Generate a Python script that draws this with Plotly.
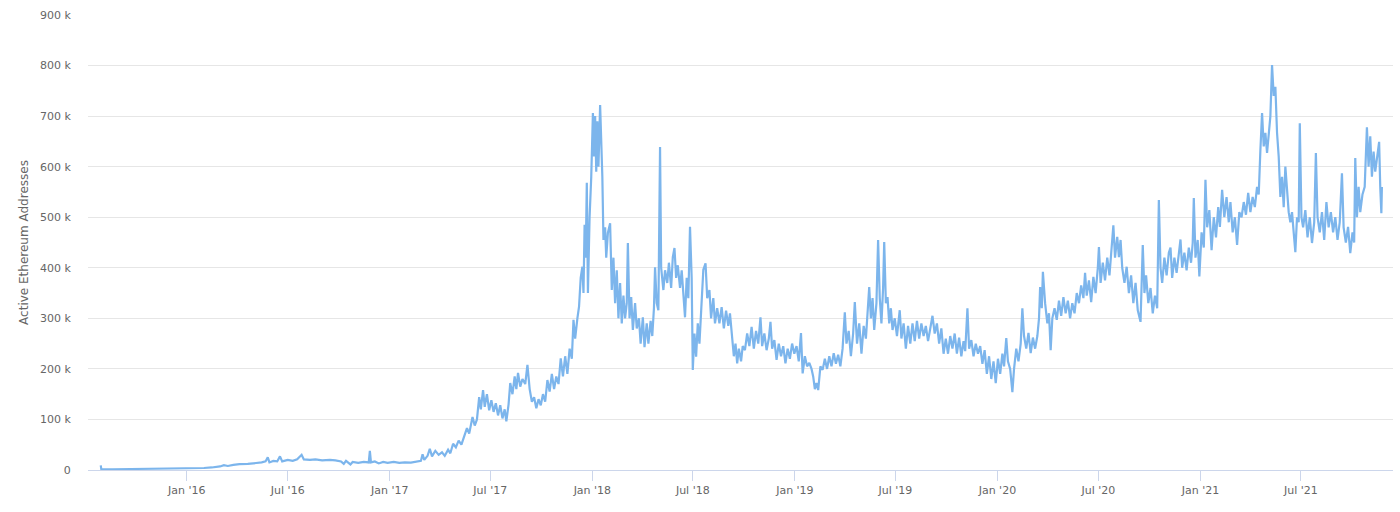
import plotly.graph_objects as go

# (date, active addresses), grouped by year
Y2015 = [("2015-07-30", 9000), ("2015-07-31", 1200), ("2015-08-20", 1500), ("2015-09-20", 1800),
         ("2015-10-20", 2000), ("2015-11-20", 2300), ("2015-12-20", 2600)]

Y2016 = [("2016-01-15", 3200), ("2016-02-01", 4000), ("2016-02-15", 5000), ("2016-03-01", 7000),
         ("2016-03-08", 9500), ("2016-03-15", 8000), ("2016-03-25", 10000), ("2016-04-05", 11500),
         ("2016-04-20", 12000), ("2016-05-05", 13500), ("2016-05-15", 15000), ("2016-05-22", 17000),
         ("2016-05-26", 25000), ("2016-05-29", 15000), ("2016-06-05", 18000), ("2016-06-12", 17000),
         ("2016-06-17", 27000), ("2016-06-21", 17000), ("2016-07-01", 20000), ("2016-07-10", 18000),
         ("2016-07-18", 21000), ("2016-07-26", 30000), ("2016-07-30", 21000), ("2016-08-10", 20000),
         ("2016-08-20", 21000), ("2016-09-01", 19000), ("2016-09-15", 20000), ("2016-09-25", 19000),
         ("2016-10-05", 17000), ("2016-10-10", 12000), ("2016-10-14", 18000), ("2016-10-22", 11000),
         ("2016-10-26", 16000), ("2016-11-05", 14000), ("2016-11-15", 16000), ("2016-11-24", 15000),
         ("2016-11-26", 38000), ("2016-11-28", 15000), ("2016-12-05", 17000), ("2016-12-12", 13000),
         ("2016-12-20", 16000), ("2016-12-28", 14000)]

Y2017 = [("2017-01-08", 16000), ("2017-01-18", 14000), ("2017-01-28", 15000), ("2017-02-08", 14500),
         ("2017-02-18", 16000), ("2017-02-26", 18000), ("2017-03-01", 31000), ("2017-03-04", 20000),
         ("2017-03-10", 28000), ("2017-03-14", 42000), ("2017-03-18", 27000), ("2017-03-24", 38000),
         ("2017-03-30", 30000), ("2017-04-05", 35000), ("2017-04-10", 28000), ("2017-04-16", 40000),
         ("2017-04-20", 33000), ("2017-04-25", 52000), ("2017-04-30", 45000), ("2017-05-05", 58000),
         ("2017-05-10", 50000), ("2017-05-16", 70000), ("2017-05-20", 83000), ("2017-05-24", 72000),
         ("2017-05-30", 105000), ("2017-06-03", 88000), ("2017-06-07", 100000), ("2017-06-11", 144000),
         ("2017-06-14", 120000), ("2017-06-18", 158000), ("2017-06-21", 125000), ("2017-06-25", 150000),
         ("2017-06-29", 118000), ("2017-07-03", 138000), ("2017-07-07", 115000), ("2017-07-11", 132000),
         ("2017-07-15", 108000), ("2017-07-19", 128000), ("2017-07-23", 102000), ("2017-07-27", 120000),
         ("2017-07-30", 96000), ("2017-08-03", 130000), ("2017-08-06", 172000), ("2017-08-10", 150000),
         ("2017-08-14", 185000), ("2017-08-17", 160000), ("2017-08-20", 192000), ("2017-08-24", 165000),
         ("2017-08-28", 180000), ("2017-09-02", 170000), ("2017-09-06", 208000), ("2017-09-10", 160000),
         ("2017-09-14", 135000), ("2017-09-18", 144000), ("2017-09-22", 122000), ("2017-09-26", 140000),
         ("2017-09-30", 128000), ("2017-10-04", 150000), ("2017-10-08", 135000), ("2017-10-12", 178000),
         ("2017-10-16", 155000), ("2017-10-20", 190000), ("2017-10-24", 160000), ("2017-10-28", 185000),
         ("2017-11-01", 170000), ("2017-11-05", 221000), ("2017-11-09", 185000), ("2017-11-13", 225000),
         ("2017-11-17", 190000), ("2017-11-21", 240000), ("2017-11-25", 220000), ("2017-11-28", 297000),
         ("2017-12-01", 260000), ("2017-12-05", 300000), ("2017-12-08", 323000), ("2017-12-11", 380000),
         ("2017-12-14", 402000), ("2017-12-16", 350000), ("2017-12-18", 485000), ("2017-12-20", 420000),
         ("2017-12-22", 568000), ("2017-12-24", 350000), ("2017-12-27", 500000), ("2017-12-30", 580000)]

Y2018 = [("2018-01-02", 706000), ("2018-01-04", 620000), ("2018-01-06", 700000), ("2018-01-08", 590000),
         ("2018-01-10", 690000), ("2018-01-12", 600000), ("2018-01-15", 722000), ("2018-01-19", 580000),
         ("2018-01-21", 455000), ("2018-01-24", 480000), ("2018-01-26", 420000), ("2018-01-29", 469000),
         ("2018-02-02", 488000), ("2018-02-05", 356000), ("2018-02-08", 420000), ("2018-02-11", 330000),
         ("2018-02-14", 395000), ("2018-02-17", 300000), ("2018-02-20", 370000), ("2018-02-23", 290000),
         ("2018-02-26", 345000), ("2018-03-01", 300000), ("2018-03-04", 330000), ("2018-03-06", 449000),
         ("2018-03-09", 300000), ("2018-03-12", 342000), ("2018-03-15", 277000), ("2018-03-19", 330000),
         ("2018-03-22", 280000), ("2018-03-26", 300000), ("2018-03-29", 250000), ("2018-04-02", 302000),
         ("2018-04-05", 243000), ("2018-04-09", 290000), ("2018-04-12", 250000), ("2018-04-16", 295000),
         ("2018-04-19", 265000), ("2018-04-22", 320000), ("2018-04-24", 401000), ("2018-04-27", 330000),
         ("2018-04-30", 316000), ("2018-05-03", 639000), ("2018-05-05", 400000), ("2018-05-09", 356000),
         ("2018-05-12", 395000), ("2018-05-16", 370000), ("2018-05-19", 410000), ("2018-05-23", 360000),
         ("2018-05-26", 421000), ("2018-05-29", 439000), ("2018-06-01", 380000), ("2018-06-04", 405000),
         ("2018-06-08", 360000), ("2018-06-11", 395000), ("2018-06-14", 350000), ("2018-06-17", 302000),
         ("2018-06-20", 380000), ("2018-06-23", 340000), ("2018-06-26", 481000), ("2018-06-29", 380000),
         ("2018-07-01", 198000), ("2018-07-04", 270000), ("2018-07-07", 224000), ("2018-07-10", 290000),
         ("2018-07-13", 250000), ("2018-07-17", 330000), ("2018-07-20", 396000), ("2018-07-24", 409000),
         ("2018-07-27", 340000), ("2018-07-31", 356000), ("2018-08-03", 300000), ("2018-08-07", 340000),
         ("2018-08-10", 290000), ("2018-08-14", 320000), ("2018-08-18", 290000), ("2018-08-22", 322000),
         ("2018-08-26", 280000), ("2018-08-30", 315000), ("2018-09-03", 285000), ("2018-09-06", 310000),
         ("2018-09-10", 257000), ("2018-09-13", 225000), ("2018-09-16", 250000), ("2018-09-19", 211000),
         ("2018-09-22", 240000), ("2018-09-26", 215000), ("2018-09-29", 245000), ("2018-10-03", 237000),
         ("2018-10-07", 270000), ("2018-10-11", 245000), ("2018-10-15", 283000), ("2018-10-19", 240000),
         ("2018-10-23", 275000), ("2018-10-27", 250000), ("2018-10-31", 302000), ("2018-11-03", 245000),
         ("2018-11-07", 270000), ("2018-11-11", 237000), ("2018-11-15", 260000), ("2018-11-18", 293000),
         ("2018-11-21", 240000), ("2018-11-25", 257000), ("2018-11-29", 218000), ("2018-12-03", 250000),
         ("2018-12-07", 225000), ("2018-12-11", 245000), ("2018-12-15", 211000), ("2018-12-19", 240000),
         ("2018-12-23", 220000), ("2018-12-27", 250000), ("2018-12-31", 230000)]

Y2019 = [("2019-01-04", 245000), ("2019-01-08", 215000), ("2019-01-12", 271000), ("2019-01-15", 191000),
         ("2019-01-19", 225000), ("2019-01-23", 205000), ("2019-01-27", 212000), ("2019-01-31", 200000),
         ("2019-02-03", 185000), ("2019-02-06", 160000), ("2019-02-09", 172000), ("2019-02-12", 158000),
         ("2019-02-16", 205000), ("2019-02-20", 198000), ("2019-02-24", 220000), ("2019-02-28", 200000),
         ("2019-03-04", 225000), ("2019-03-08", 205000), ("2019-03-12", 231000), ("2019-03-16", 210000),
         ("2019-03-20", 228000), ("2019-03-24", 205000), ("2019-03-28", 240000), ("2019-04-01", 312000),
         ("2019-04-04", 250000), ("2019-04-08", 275000), ("2019-04-12", 225000), ("2019-04-16", 270000),
         ("2019-04-19", 332000), ("2019-04-23", 250000), ("2019-04-27", 290000), ("2019-05-01", 230000),
         ("2019-05-05", 285000), ("2019-05-09", 260000), ("2019-05-12", 320000), ("2019-05-15", 362000),
         ("2019-05-18", 300000), ("2019-05-21", 340000), ("2019-05-24", 277000), ("2019-05-28", 330000),
         ("2019-05-31", 455000), ("2019-06-03", 340000), ("2019-06-06", 290000), ("2019-06-09", 360000),
         ("2019-06-11", 451000), ("2019-06-14", 330000), ("2019-06-17", 342000), ("2019-06-20", 290000),
         ("2019-06-23", 320000), ("2019-06-26", 277000), ("2019-06-30", 300000), ("2019-07-04", 265000),
         ("2019-07-09", 316000), ("2019-07-12", 260000), ("2019-07-16", 290000), ("2019-07-20", 240000),
         ("2019-07-24", 285000), ("2019-07-28", 250000), ("2019-08-01", 290000), ("2019-08-05", 255000),
         ("2019-08-09", 295000), ("2019-08-13", 260000), ("2019-08-17", 290000), ("2019-08-21", 265000),
         ("2019-08-25", 285000), ("2019-08-29", 255000), ("2019-09-02", 280000), ("2019-09-06", 305000),
         ("2019-09-10", 270000), ("2019-09-14", 290000), ("2019-09-18", 250000), ("2019-09-22", 280000),
         ("2019-09-26", 230000), ("2019-09-30", 260000), ("2019-10-04", 230000), ("2019-10-08", 265000),
         ("2019-10-12", 240000), ("2019-10-16", 270000), ("2019-10-20", 230000), ("2019-10-24", 262000),
         ("2019-10-28", 225000), ("2019-11-01", 255000), ("2019-11-04", 235000), ("2019-11-08", 320000),
         ("2019-11-11", 240000), ("2019-11-15", 257000), ("2019-11-19", 225000), ("2019-11-23", 250000),
         ("2019-11-27", 230000), ("2019-12-01", 245000), ("2019-12-05", 210000), ("2019-12-09", 237000),
         ("2019-12-13", 190000), ("2019-12-17", 225000), ("2019-12-21", 180000), ("2019-12-25", 215000),
         ("2019-12-29", 172000)]

Y2020 = [("2020-01-02", 220000), ("2020-01-06", 190000), ("2020-01-10", 230000), ("2020-01-13", 205000),
         ("2020-01-17", 261000), ("2020-01-20", 215000), ("2020-01-24", 200000), ("2020-01-28", 154000),
         ("2020-01-31", 200000), ("2020-02-04", 240000), ("2020-02-08", 215000), ("2020-02-12", 250000),
         ("2020-02-15", 320000), ("2020-02-18", 265000), ("2020-02-22", 240000), ("2020-02-26", 271000),
         ("2020-03-01", 231000), ("2020-03-05", 262000), ("2020-03-09", 240000), ("2020-03-13", 265000),
         ("2020-03-16", 300000), ("2020-03-18", 362000), ("2020-03-21", 320000), ("2020-03-23", 392000),
         ("2020-03-27", 330000), ("2020-03-31", 290000), ("2020-04-03", 310000), ("2020-04-06", 237000),
         ("2020-04-09", 300000), ("2020-04-13", 320000), ("2020-04-17", 297000), ("2020-04-21", 335000),
         ("2020-04-25", 305000), ("2020-04-29", 342000), ("2020-05-03", 310000), ("2020-05-07", 335000),
         ("2020-05-11", 300000), ("2020-05-15", 330000), ("2020-05-19", 310000), ("2020-05-23", 350000),
         ("2020-05-27", 330000), ("2020-05-31", 365000), ("2020-06-04", 340000), ("2020-06-07", 390000),
         ("2020-06-10", 345000), ("2020-06-14", 375000), ("2020-06-18", 332000), ("2020-06-22", 382000),
         ("2020-06-26", 350000), ("2020-06-30", 400000), ("2020-07-02", 441000), ("2020-07-05", 370000),
         ("2020-07-09", 410000), ("2020-07-13", 375000), ("2020-07-17", 420000), ("2020-07-21", 385000),
         ("2020-07-25", 435000), ("2020-07-28", 484000), ("2020-07-31", 420000), ("2020-08-04", 461000),
         ("2020-08-07", 421000), ("2020-08-10", 455000), ("2020-08-13", 400000), ("2020-08-17", 370000),
         ("2020-08-21", 402000), ("2020-08-25", 350000), ("2020-08-29", 385000), ("2020-09-02", 330000),
         ("2020-09-06", 370000), ("2020-09-10", 316000), ("2020-09-15", 293000), ("2020-09-19", 445000),
         ("2020-09-22", 350000), ("2020-09-25", 385000), ("2020-09-29", 330000), ("2020-10-03", 360000),
         ("2020-10-07", 310000), ("2020-10-11", 345000), ("2020-10-15", 320000), ("2020-10-18", 534000),
         ("2020-10-21", 400000), ("2020-10-24", 370000), ("2020-10-28", 420000), ("2020-11-01", 385000),
         ("2020-11-05", 430000), ("2020-11-08", 440000), ("2020-11-11", 380000), ("2020-11-15", 420000),
         ("2020-11-19", 390000), ("2020-11-23", 430000), ("2020-11-26", 456000), ("2020-11-29", 400000),
         ("2020-12-03", 430000), ("2020-12-07", 395000), ("2020-12-11", 440000), ("2020-12-15", 410000),
         ("2020-12-18", 449000), ("2020-12-20", 538000), ("2020-12-23", 420000), ("2020-12-27", 455000),
         ("2020-12-30", 383000)]

Y2021 = [("2021-01-03", 470000), ("2021-01-07", 440000), ("2021-01-10", 574000), ("2021-01-13", 480000),
         ("2021-01-17", 514000), ("2021-01-21", 435000), ("2021-01-25", 500000), ("2021-01-29", 460000),
         ("2021-02-02", 520000), ("2021-02-05", 481000), ("2021-02-09", 554000), ("2021-02-13", 500000),
         ("2021-02-17", 540000), ("2021-02-21", 490000), ("2021-02-24", 530000), ("2021-02-28", 470000),
         ("2021-03-04", 500000), ("2021-03-08", 445000), ("2021-03-12", 510000), ("2021-03-16", 500000),
         ("2021-03-20", 530000), ("2021-03-24", 505000), ("2021-03-28", 548000), ("2021-04-01", 510000),
         ("2021-04-05", 540000), ("2021-04-09", 520000), ("2021-04-13", 560000), ("2021-04-16", 545000),
         ("2021-04-19", 633000), ("2021-04-22", 706000), ("2021-04-25", 640000), ("2021-04-28", 667000),
         ("2021-05-01", 627000), ("2021-05-04", 660000), ("2021-05-07", 700000), ("2021-05-10", 801000),
         ("2021-05-13", 740000), ("2021-05-16", 758000), ("2021-05-19", 667000), ("2021-05-22", 620000),
         ("2021-05-25", 540000), ("2021-05-28", 580000), ("2021-05-31", 520000), ("2021-06-03", 600000),
         ("2021-06-06", 560000), ("2021-06-09", 510000), ("2021-06-12", 490000), ("2021-06-15", 510000),
         ("2021-06-18", 470000), ("2021-06-21", 431000), ("2021-06-24", 500000), ("2021-06-27", 490000),
         ("2021-06-29", 686000), ("2021-07-02", 500000), ("2021-07-05", 480000), ("2021-07-09", 514000),
         ("2021-07-13", 460000), ("2021-07-17", 500000), ("2021-07-21", 449000), ("2021-07-25", 490000),
         ("2021-07-28", 627000), ("2021-07-31", 500000), ("2021-08-04", 470000), ("2021-08-08", 510000),
         ("2021-08-12", 455000), ("2021-08-16", 530000), ("2021-08-20", 480000), ("2021-08-24", 510000),
         ("2021-08-28", 470000), ("2021-09-01", 500000), ("2021-09-05", 455000), ("2021-09-09", 490000),
         ("2021-09-13", 587000), ("2021-09-16", 480000), ("2021-09-20", 450000), ("2021-09-24", 481000),
         ("2021-09-28", 429000), ("2021-10-02", 470000), ("2021-10-05", 450000), ("2021-10-07", 617000),
         ("2021-10-10", 500000), ("2021-10-13", 560000), ("2021-10-16", 510000), ("2021-10-20", 545000),
         ("2021-10-24", 560000), ("2021-10-28", 678000), ("2021-10-31", 600000), ("2021-11-03", 660000),
         ("2021-11-06", 580000), ("2021-11-09", 630000), ("2021-11-12", 590000), ("2021-11-16", 620000),
         ("2021-11-19", 649000), ("2021-11-21", 560000), ("2021-11-23", 508000), ("2021-11-24", 560000)]

Y_TICKS = [0, 100000, 200000, 300000, 400000, 500000, 600000, 700000, 800000, 900000]
Y_TICK_TEXT = ["0", "100 k", "200 k", "300 k", "400 k", "500 k", "600 k", "700 k", "800 k", "900 k"]
X_TICKS = ["2016-01-01", "2016-07-01", "2017-01-01", "2017-07-01", "2018-01-01", "2018-07-01",
           "2019-01-01", "2019-07-01", "2020-01-01", "2020-07-01", "2021-01-01", "2021-07-01"]
X_TICK_TEXT = ["Jan '16", "Jul '16", "Jan '17", "Jul '17", "Jan '18", "Jul '18",
               "Jan '19", "Jul '19", "Jan '20", "Jul '20", "Jan '21", "Jul '21"]

points = Y2015 + Y2016 + Y2017 + Y2018 + Y2019 + Y2020 + Y2021
dates = [d for d, _ in points]
values = [v for _, v in points]

FONT = "Lucida Grande, DejaVu Sans, Verdana, sans-serif"

fig = go.Figure(go.Scatter(x=dates, y=values, mode="lines",
                           line=dict(color="#7cb5ec", width=2.2),
                           name="Active Ethereum Addresses"))

fig.update_layout(
    width=1400, height=512,
    margin=dict(l=88, r=7, t=15, b=42),
    paper_bgcolor="white", plot_bgcolor="white",
    showlegend=False,
    font=dict(family=FONT, size=11, color="#666666"),
)
fig.update_yaxes(
    range=[0, 900000], tickvals=Y_TICKS, ticktext=Y_TICK_TEXT,
    showgrid=True, gridcolor="#e6e6e6", gridwidth=1, zeroline=False, showline=False,
    ticks="outside", ticklen=14, tickcolor="rgba(0,0,0,0)",
    tickfont=dict(family=FONT, size=11, color="#666666"),
    title=dict(text="Active Ethereum Addresses", font=dict(family=FONT, size=12, color="#666666"),
               standoff=8),
)
fig.update_xaxes(
    type="date", range=["2015-07-07", "2021-12-14"],
    tickvals=X_TICKS, ticktext=X_TICK_TEXT,
    showgrid=False, zeroline=False,
    showline=True, linecolor="#ccd6eb", linewidth=1,
    ticks="outside", ticklen=10, tickcolor="#ccd6eb", tickwidth=1,
    tickfont=dict(family=FONT, size=11, color="#666666"),
)

fig.write_html("out.html", config={"displayModeBar": False},
               post_script="document.body.style.margin='0';")
